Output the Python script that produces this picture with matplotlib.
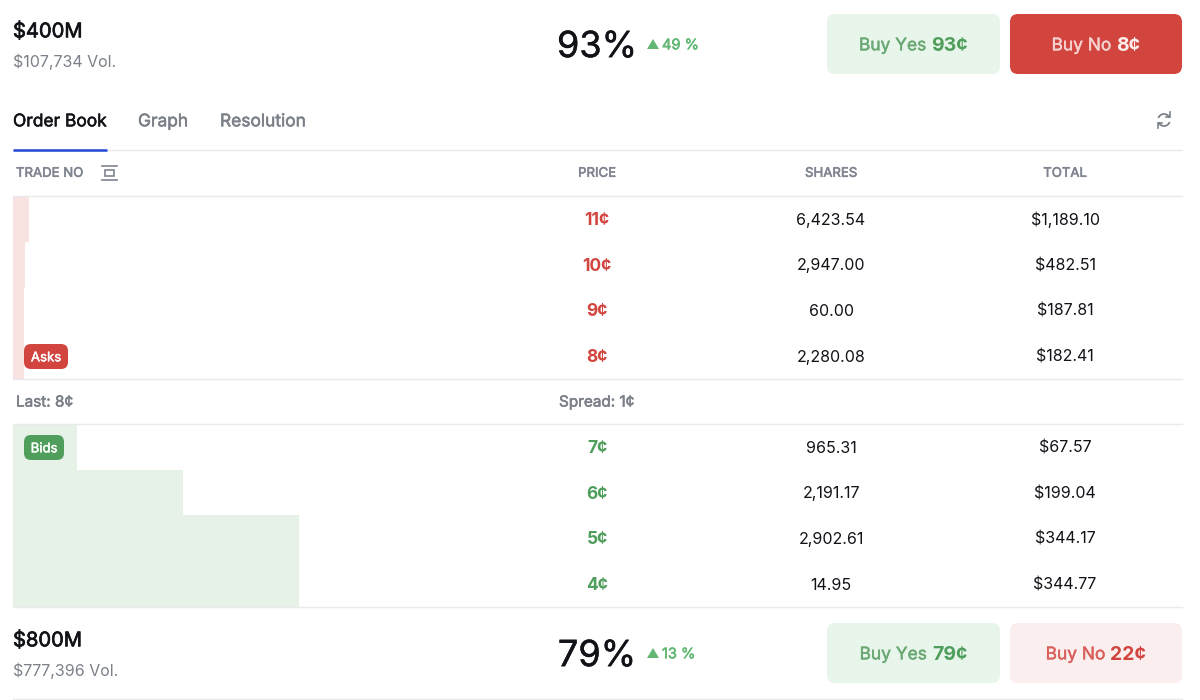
import matplotlib.pyplot as plt
import matplotlib.patheffects as pe
from matplotlib.patches import Arc, FancyBboxPatch, Polygon, Rectangle

plt.rcParams["font.family"] = ["Inter", "DejaVu Sans"]

# Order book data
ask_prices = ["11¢", "10¢", "9¢", "8¢"]
ask_shares = ["6,423.54", "2,947.00", "60.00", "2,280.08"]
ask_totals = ["$1,189.10", "$482.51", "$187.81", "$182.41"]
ask_depth = [16, 12, 11, 11]

bid_prices = ["7¢", "6¢", "5¢", "4¢"]
bid_shares = ["965.31", "2,191.17", "2,902.61", "14.95"]
bid_totals = ["$67.57", "$199.04", "$344.17", "$344.77"]
bid_depth = [64, 170, 286, 286]

ask_rows = [219, 264.5, 310, 356]
bid_rows = [447, 492.5, 538, 584]

BLACK = "#111318"
GREY = "#7b8089"
HEAD = "#7f8490"
RED = "#d2453f"
GREEN = "#4f9e5c"
LINE = "#e9eaec"

fig = plt.figure(figsize=(12, 7), dpi=100)
ax = fig.add_axes([0, 0, 1, 1])
ax.set_xlim(0, 1200)
ax.set_ylim(700, 0)
ax.axis("off")


def label(x, y, s, size, color=BLACK, ha="left", weight="normal", thick=0, zorder=4):
    # baseline placement so that rows do not jump with the glyphs in them
    t = ax.text(x, y + 0.505 * size, s, fontsize=size, color=color, ha=ha, va="baseline",
                weight=weight, zorder=zorder)
    if thick:
        t.set_path_effects([pe.withStroke(linewidth=thick, foreground=color)])
    return t


def text_width(t):
    return t.get_window_extent(fig.canvas.get_renderer()).width


def button(x, y, w, h, face, word, price, word_color, price_color):
    ax.add_patch(FancyBboxPatch((x + 8, y + 8), w - 16, h - 16,
                                boxstyle="round,pad=8,rounding_size=8",
                                fc=face, ec="none", zorder=1))
    a = label(x, y + h / 2, word, 12.5, word_color, thick=0.3)
    b = label(x, y + h / 2, price, 14, price_color, weight="bold")
    wa, wb = text_width(a), text_width(b)
    start = x + (w - wa - wb - 5) / 2
    a.set_x(start)
    b.set_x(start + wa + 5)
    b.set_y(y + h / 2 + 0.505 * 14)


def market(y0, value, vol, pct, change, yes, no, no_face, no_word, no_price):
    label(13, y0 + 30, value, 14.5, BLACK, thick=0.5)
    label(13, y0 + 61, vol, 11.5, GREY)
    label(597, y0 + 44, pct, 26, BLACK, "center", thick=0.3)
    tx, ty = 653, y0 + 44
    ax.add_patch(Polygon([(tx - 6, ty + 5), (tx, ty - 5), (tx + 6, ty + 5)], fc="#62b873", ec="none"))
    label(662, ty, change, 10.5, "#62b873", thick=0.4)
    button(827, y0 + 14, 173, 60, "#e8f5ea", "Buy Yes", yes, "#6aa874", GREEN)
    button(1010, y0 + 14, 172, 60, no_face, "Buy No", no, no_word, no_price)


market(0, "$400M", "$107,734 Vol.", "93%", "49 %", "93¢", "8¢", "#d2453f", "#f6d3d0", "#fdeeed")
market(609, "$800M", "$777,396 Vol.", "79%", "13 %", "79¢", "22¢", "#fbeeee", "#d9605b", "#d2453f")

# Tabs
label(13, 120, "Order Book", 12.5, BLACK, thick=0.4)
label(138, 120, "Graph", 12.5, GREY, thick=0.4)
label(220, 120, "Resolution", 12.5, GREY, thick=0.4)

# Separators
for y in [150, 196, 379, 424, 607, 699]:
    ax.plot([13, 1182], [y, y], color=LINE, lw=1, zorder=2)
ax.plot([13, 107], [150, 150], color="#2347d6", lw=1.8, solid_capstyle="butt", zorder=3)

# Refresh icon
ax.add_patch(Arc((1164, 120), 12, 12, theta1=200, theta2=340, color=GREY, lw=1.3))
ax.add_patch(Arc((1164, 120), 12, 12, theta1=20, theta2=160, color=GREY, lw=1.3))
ax.plot([1170, 1170, 1166], [112, 117, 117], color=GREY, lw=1.2)
ax.plot([1158, 1158, 1162], [128, 123, 123], color=GREY, lw=1.2)

# Table header
label(16, 172, "TRADE NO", 9.5, HEAD, thick=0.4)
ax.plot([102, 117], [166, 166], color=HEAD, lw=1.2)
ax.plot([102, 117], [180, 180], color=HEAD, lw=1.2)
ax.add_patch(Rectangle((105, 170), 9, 6, fc="none", ec=HEAD, lw=1.2))
label(597, 172, "PRICE", 9.5, HEAD, "center", thick=0.4)
label(831, 172, "SHARES", 9.5, HEAD, "center", thick=0.4)
label(1065, 172, "TOTAL", 9.5, HEAD, "center", thick=0.4)

# Depth bars
ax.barh(ask_rows, ask_depth, left=13, height=46, color="#f9e3e1", zorder=1)
ax.barh(bid_rows, bid_depth, left=13, height=46, color="#e6f1e8", zorder=1)

# Rows
for y, p, s, t in zip(ask_rows, ask_prices, ask_shares, ask_totals):
    label(597, y, p, 12.5, RED, "center", "bold")
    label(831, y, s, 11.5, BLACK, "center")
    label(1065, y, t, 11.5, BLACK, "center")
for y, p, s, t in zip(bid_rows, bid_prices, bid_shares, bid_totals):
    label(597, y, p, 12.5, GREEN, "center", "bold")
    label(831, y, s, 11.5, BLACK, "center")
    label(1065, y, t, 11.5, BLACK, "center")

label(16, 401, "Last: 8¢", 11, GREY, thick=0.4)
label(559, 401, "Spread: 1¢", 11, GREY, thick=0.4)

# Asks / Bids pills
for x, y, w, face, s in [(24, 344, 44, RED, "Asks"), (24, 435, 40, GREEN, "Bids")]:
    ax.add_patch(FancyBboxPatch((x + 7, y + 7), w - 14, 11, boxstyle="round,pad=7,rounding_size=7",
                                fc=face, ec="none", zorder=3))
    label(x + w / 2, y + 12.5, s, 9.5, "white", "center", thick=0.3)

fig.savefig("out.png", dpi=100)
